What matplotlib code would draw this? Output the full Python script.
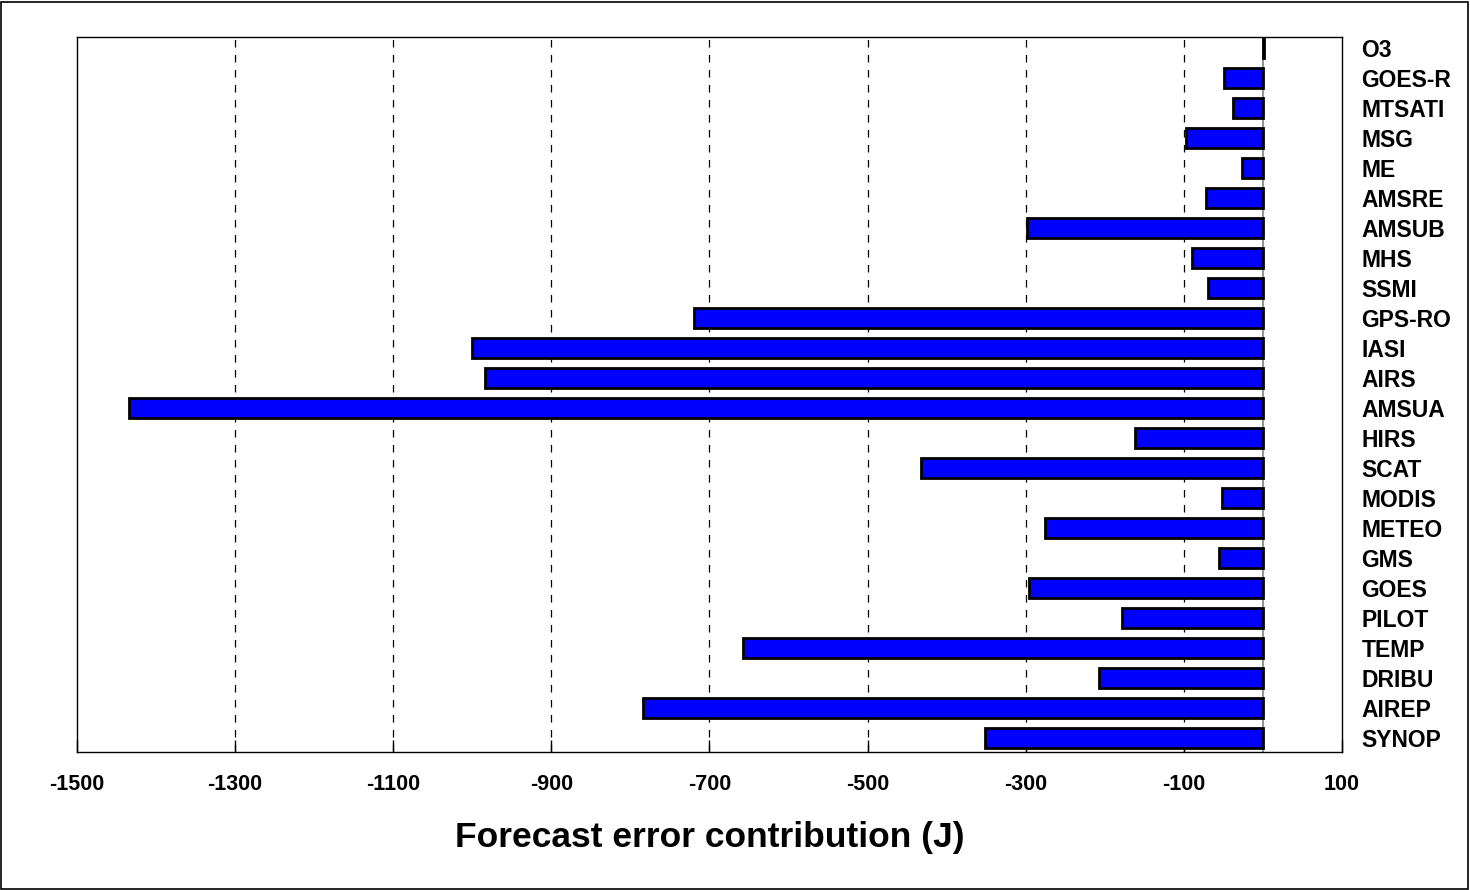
import matplotlib.pyplot as plt
from matplotlib.patches import Rectangle
import numpy as np

plt.rcParams['font.family'] = ['Liberation Sans', 'DejaVu Sans']

# Observation types, bottom to top
obs_types = ['SYNOP', 'AIREP', 'DRIBU', 'TEMP', 'PILOT', 'GOES', 'GMS',
             'METEO', 'MODIS', 'SCAT', 'HIRS', 'AMSUA', 'AIRS', 'IASI',
             'GPS-RO', 'SSMI', 'MHS', 'AMSUB', 'AMSRE', 'ME', 'MSG',
             'MTSATI', 'GOES-R', 'O3']

# Forecast error contribution (J)
contribution = [-352, -784, -207, -657, -178, -296, -55,
                -275, -52, -433, -162, -1434, -984, -1001,
                -719, -69, -90, -299, -72, -27, -97,
                -38, -49, 2]

x_ticks = [-1500, -1300, -1100, -900, -700, -500, -300, -100, 100]

fig = plt.figure(figsize=(14.7, 8.9), dpi=100)
ax = fig.add_axes([0.0524, 0.155, 0.9129 - 0.0524, 0.9584 - 0.155])

y = np.arange(len(obs_types))

# Dashed vertical gridlines behind the bars
for t in x_ticks[1:-1]:
    ax.axvline(t, color='black', lw=0.9, ls=(0, (6, 6)), zorder=0)
ax.axvline(0, color='gray', lw=1.2, zorder=1)

ax.barh(y, contribution, height=0.66, color='#0000ff', edgecolor='black',
        linewidth=2, zorder=2)

ax.set_xlim(-1500, 100)
ax.set_ylim(-0.47, 23.37)
ax.set_xticks(x_ticks)
ax.set_xticklabels([str(t) for t in x_ticks], fontsize=15.5, fontweight='bold')
ax.tick_params(axis='x', direction='in', length=9, width=1, pad=15.5)

ax.yaxis.tick_right()
ax.set_yticks(y)
ax.set_yticklabels(obs_types, fontsize=16.5, fontweight='bold')
ax.tick_params(axis='y', length=0, pad=14)

for s in ax.spines.values():
    s.set_linewidth(1)

ax.set_xlabel('Forecast error contribution (J)', fontsize=25.5,
              fontweight='bold', labelpad=19)

# Outer frame around the whole figure
fig.add_artist(Rectangle((0.0005, 0.001), 0.998, 0.997,
                         transform=fig.transFigure, fill=False,
                         edgecolor='black', lw=1.2))

fig.savefig('out.png', dpi=100)
